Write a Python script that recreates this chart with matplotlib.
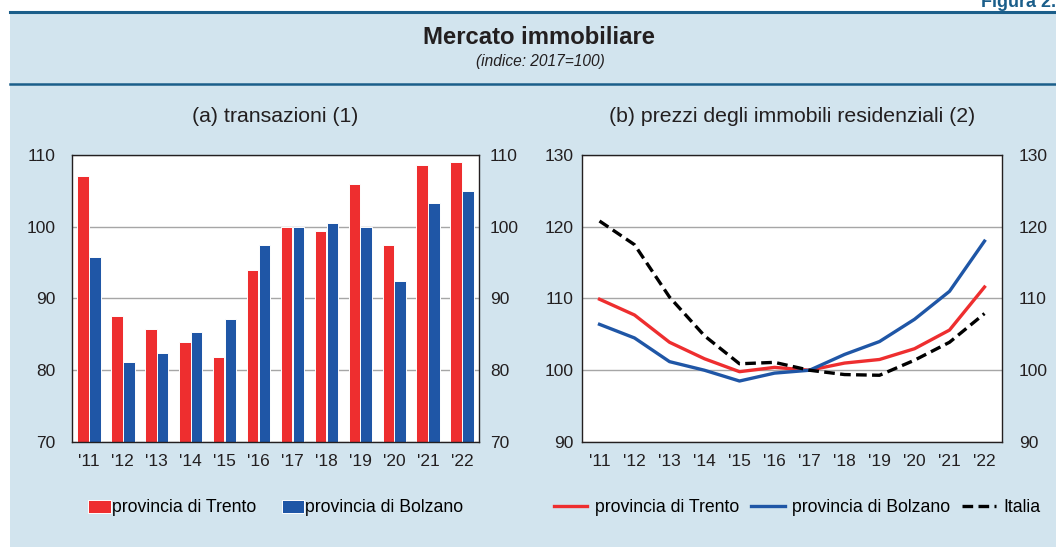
import matplotlib
matplotlib.use("Agg")
import matplotlib.pyplot as plt
from matplotlib.patches import Rectangle
from matplotlib.lines import Line2D
import numpy as np

plt.rcParams['font.family'] = ['Liberation Sans', 'DejaVu Sans']

# data
anni = ["'11", "'12", "'13", "'14", "'15", "'16", "'17", "'18", "'19", "'20", "'21", "'22"]

# (a) transazioni
trans_trento = [107.1, 87.5, 85.7, 83.9, 81.8, 94.0, 100.0, 99.4, 105.9, 97.5, 108.6, 109.0]
trans_bolzano = [95.8, 81.1, 82.4, 85.3, 87.1, 97.5, 100.0, 100.5, 99.9, 92.5, 103.3, 105.0]

# (b) prezzi abitazioni
prezzi_trento = [109.9, 107.7, 103.9, 101.6, 99.8, 100.4, 100.0, 101.0, 101.5, 103.0, 105.6, 111.6]
prezzi_bolzano = [106.4, 104.5, 101.2, 100.0, 98.5, 99.6, 100.0, 102.2, 104.0, 107.1, 111.0, 118.0]
prezzi_italia = [120.8, 117.5, 110.2, 104.8, 100.9, 101.1, 100.0, 99.4, 99.3, 101.4, 103.9, 107.9]

RED = '#ee2e2f'
BLUE = '#1f56a6'
BG = '#d2e4ee'
DARK = '#1b5e8a'
GRID = '#a6a6a6'
TXT = '#231f20'

W, H = 1056, 547
fig = plt.figure(figsize=(W / 100, H / 100), dpi=100)
fig.patch.set_facecolor('white')


def px(x, y, w, h):
    # pixel box (from top-left) -> figure fraction
    return [x / W, 1 - (y + h) / H, w / W, h / H]


# panel background and rules
fig.patches.append(Rectangle((10 / W, 0), 1 - 10 / W, 1 - 12 / H,
                             transform=fig.transFigure, facecolor=BG,
                             edgecolor='none', zorder=-10))
fig.lines.append(Line2D([10 / W, 1], [1 - 12 / H] * 2, transform=fig.transFigure,
                        color=DARK, lw=2.2, zorder=-5))
fig.lines.append(Line2D([10 / W, 1], [1 - 84 / H] * 2, transform=fig.transFigure,
                        color=DARK, lw=1.8, zorder=-5))

fig.text(1.0, 1 - 7 / H, 'Figura 2.', ha='right', va='baseline', color=DARK,
         fontsize=13, fontweight='bold')
fig.text(539 / W, 1 - 37 / H, 'Mercato immobiliare', ha='center', va='center',
         fontsize=17.2, fontweight='bold', color=TXT)
fig.text(540 / W, 1 - 62 / H, '(indice: 2017=100)', ha='center', va='center',
         fontsize=11.2, style='italic', color=TXT)

x = np.arange(len(anni))


def style_axes(ax, ylim, yticks, pad_left, pad_right):
    ax.set_xlim(-0.5, len(anni) - 0.5)
    ax.set_ylim(*ylim)
    ax.set_yticks(yticks)
    ax.set_xticks(x)
    ax.set_xticklabels(anni)
    ax.grid(axis='y', color=GRID, lw=1)
    ax.set_axisbelow(True)
    ax.tick_params(axis='x', length=0, pad=9, labelsize=12.5, colors=TXT)
    ax.tick_params(axis='y', length=0, pad=pad_left, labelsize=12.5, colors=TXT)
    for s in ax.spines.values():
        s.set_color(TXT)
        s.set_linewidth(1)
    ax2 = ax.twinx()
    ax2.set_ylim(*ylim)
    ax2.set_yticks(yticks)
    ax2.tick_params(axis='y', length=0, pad=pad_right, labelsize=12.5, colors=TXT)
    for s in ax2.spines.values():
        s.set_visible(False)
    return ax2


# (a)
ax1 = fig.add_axes(px(72, 155, 407, 287))
bw = 0.34
ax1.bar(x - 0.175, [v - 70 for v in trans_trento], bw, bottom=70, color=RED,
        edgecolor='white', linewidth=0.7, label='provincia di Trento')
ax1.bar(x + 0.175, [v - 70 for v in trans_bolzano], bw, bottom=70, color=BLUE,
        edgecolor='white', linewidth=0.7, label='provincia di Bolzano')
style_axes(ax1, (70, 110), [70, 80, 90, 100, 110], 12, 8)
ax1.set_title('(a) transazioni (1)', fontsize=15.3, pad=24, color=TXT)

h1, l1 = ax1.get_legend_handles_labels()
fig.legend(h1, l1, loc='center left', bbox_to_anchor=(72 / W, 1 - 508 / H),
           frameon=False, fontsize=12.7, handlelength=1.3, handleheight=0.8,
           handletextpad=0.05, columnspacing=1.45, ncol=2)

# (b)
ax2 = fig.add_axes(px(582, 155, 420, 287))
ax2.plot(x, prezzi_trento, color=RED, lw=2.4, label='provincia di Trento')
ax2.plot(x, prezzi_bolzano, color=BLUE, lw=2.4, label='provincia di Bolzano')
ax2.plot(x, prezzi_italia, color='black', lw=2.4, ls=(0, (3.2, 1.6)), label='Italia')
style_axes(ax2, (90, 130), [90, 100, 110, 120, 130], 6, 12)
ax2.set_title('(b) prezzi degli immobili residenziali (2)', fontsize=15.3, pad=24,
              color=TXT)

h2, l2 = ax2.get_legend_handles_labels()
fig.legend(h2, l2, loc='center left', bbox_to_anchor=(538 / W, 1 - 508 / H),
           frameon=False, fontsize=12.7, handlelength=1.9, handletextpad=0.45,
           columnspacing=0.65, ncol=3)

fig.savefig('out.png', dpi=100, facecolor=fig.get_facecolor())
